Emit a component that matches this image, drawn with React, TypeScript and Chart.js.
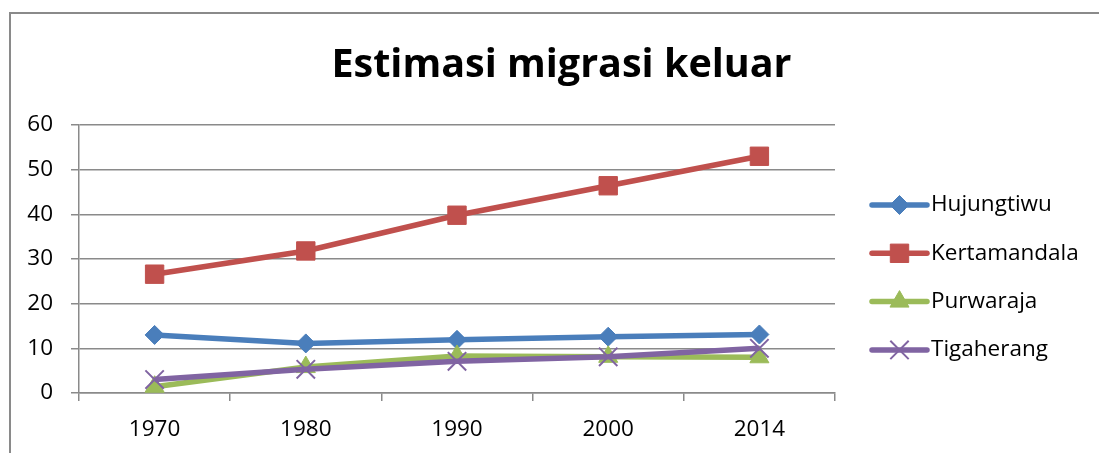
import React, { useEffect, useRef } from "react";
import { Chart, registerables } from "chart.js";
import { drawPoint } from "chart.js/helpers";

Chart.register(...registerables);

const categories = ["1970", "1980", "1990", "2000", "2014"];
const hujungtiwu = [13, 11.1, 11.9, 12.6, 13.1];
const kertamandala = [26.6, 31.8, 39.8, 46.4, 53];
const purwaraja = [1.4, 5.8, 8.3, 8.1, 8];
const tigaherang = [3, 5.3, 7.1, 8.1, 10];
const seriesNames = ["Hujungtiwu", "Kertamandala", "Purwaraja", "Tigaherang"];
const yTicks = [0, 10, 20, 30, 40, 50, 60];

const FONT = "'Open Sans', 'Noto Sans', sans-serif";
const GRID = "#8a8a8a";

const frame = {
  id: "frame",
  beforeDraw(chart: any) {
    const ctx = chart.ctx;
    ctx.save();
    ctx.fillStyle = "#ffffff";
    ctx.fillRect(0, 0, chart.width, chart.height);
    ctx.strokeStyle = GRID;
    ctx.lineWidth = 2;
    ctx.strokeRect(10, 13, 3000, 3000);
    ctx.restore();
  },
};

const lineLegend = {
  id: "lineLegend",
  afterDraw(chart: any) {
    const ctx = chart.ctx;
    const x0 = 872;
    const x1 = 927;
    const top = 205;
    const step = 48.3;
    ctx.save();
    chart.data.datasets.forEach((ds: any, i: number) => {
      const y = top + i * step;
      ctx.strokeStyle = ds.borderColor;
      ctx.lineWidth = ds.borderWidth;
      ctx.lineCap = "round";
      ctx.beginPath();
      ctx.moveTo(x0, y);
      ctx.lineTo(x1, y);
      ctx.stroke();
      ctx.fillStyle = ds.pointBackgroundColor;
      ctx.strokeStyle = ds.pointBorderColor;
      ctx.lineWidth = ds.pointBorderWidth;
      ctx.lineCap = "butt";
      drawPoint(
        ctx,
        { pointStyle: ds.pointStyle, radius: ds.pointRadius, borderWidth: ds.pointBorderWidth, rotation: 0 },
        (x0 + x1) / 2,
        y
      );
      ctx.fillStyle = "#000";
      ctx.font = `22.5px ${FONT}`;
      ctx.textBaseline = "middle";
      ctx.textAlign = "left";
      ctx.fillText(ds.label, 931, y);
    });
    ctx.restore();
  },
};

function mk(label: string, data: number[], color: string, style: string, radius: number, order: number, bw = 1) {
  return {
    label,
    data,
    borderColor: color,
    backgroundColor: color,
    borderWidth: 5.5,
    pointStyle: style,
    pointRadius: radius,
    pointHoverRadius: radius,
    pointBackgroundColor: color,
    pointBorderColor: color,
    pointBorderWidth: bw,
    tension: 0,
    order,
  };
}

export default function App() {
  const ref = useRef<HTMLCanvasElement | null>(null);
  useEffect(() => {
    if (!ref.current) return;
    const chart = new Chart(ref.current, {
      type: "line",
      data: {
        labels: categories,
        datasets: [
          mk(seriesNames[0], hujungtiwu, "#4a7ebb", "rectRot", 9.5, 3),
          mk(seriesNames[1], kertamandala, "#c0504d", "rect", 13, 2),
          mk(seriesNames[2], purwaraja, "#9bbb59", "triangle", 11, 1),
          mk(seriesNames[3], tigaherang, "#8064a2", "crossRot", 13, 0, 2),
        ] as any,
      },
      options: {
        animation: false,
        responsive: false,
        devicePixelRatio: 1,
        layout: { padding: { left: 24, right: 0, top: 0, bottom: 0 } },
        plugins: {
          legend: { display: false },
          tooltip: { enabled: false },
          title: {
            display: true,
            text: "Estimasi migrasi keluar",
            color: "#000",
            font: { family: FONT, size: 39.5, weight: "bold", lineHeight: 1.2 },
            padding: { top: 42, bottom: 35.6 },
          },
        },
        scales: {
          x: {
            type: "category",
            offset: true,
            grid: {
              offset: true,
              drawOnChartArea: false,
              drawTicks: true,
              tickLength: 8,
              color: GRID,
              lineWidth: 1.5,
            },
            border: { display: true, color: GRID, width: 1.5 },
            ticks: { color: "#000", font: { family: FONT, size: 22.5 }, padding: 15, maxRotation: 0 },
            afterFit: (s: any) => {
              s.height = 60;
            },
          },
          y: {
            min: 0,
            max: 60,
            afterBuildTicks: (s: any) => {
              s.ticks = yTicks.map((v) => ({ value: v }));
            },
            grid: { color: GRID, lineWidth: 1.5, drawTicks: true, tickLength: 8 },
            border: { display: true, color: GRID, width: 1.5 },
            ticks: { color: "#000", font: { family: FONT, size: 22.5 }, padding: 18 },
            afterFit: (s: any) => {
              s.width = 55;
            },
          },
          yR: {
            position: "right",
            display: true,
            min: 0,
            max: 60,
            grid: { display: false, drawTicks: false },
            border: { display: false },
            ticks: { display: false },
            afterFit: (s: any) => {
              s.width = 264;
            },
          },
        },
      },
      plugins: [frame, lineLegend],
    });
    return () => chart.destroy();
  }, []);
  return (
    <div style={{ position: "fixed", left: 0, top: 0, width: 1099, height: 453 }}>
      <canvas ref={ref} width={1099} height={453} style={{ display: "block" }} />
    </div>
  );
}
